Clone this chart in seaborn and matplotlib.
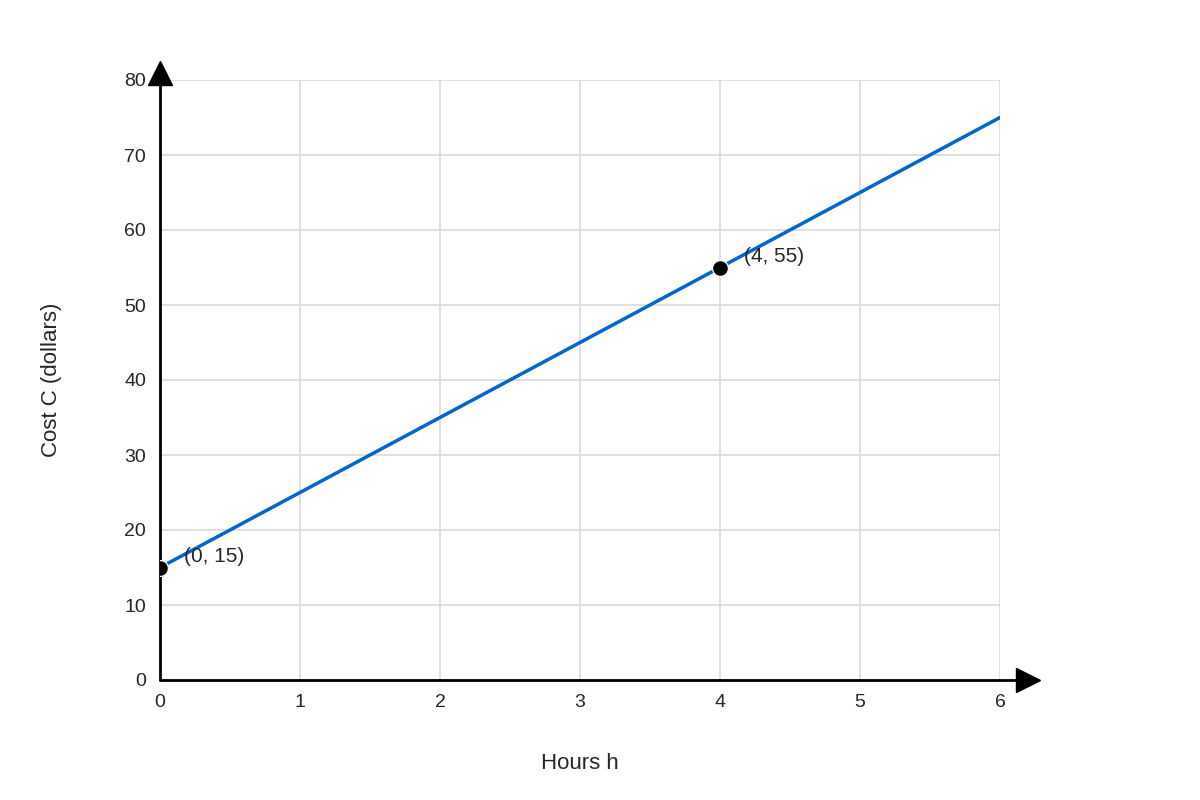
import matplotlib.pyplot as plt
import seaborn as sns
import pandas as pd

hours = [0, 6]
cost = [15, 75]
point_x = [0, 4]
point_y = [15, 55]
point_labels = ["(0, 15)", "(4, 55)"]
x_ticks = [0, 1, 2, 3, 4, 5, 6]
y_ticks = [0, 10, 20, 30, 40, 50, 60, 70, 80]

sns.set_style("white")
plt.rcParams['font.family'] = ['Liberation Sans', 'DejaVu Sans']

fig = plt.figure(figsize=(12, 8), dpi=100)
ax = fig.add_axes([160 / 1200, 120 / 800, 840 / 1200, 600 / 800])

df = pd.DataFrame({"h": hours, "C": cost})
sns.lineplot(data=df, x="h", y="C", color="#0066CC", linewidth=2.5, ax=ax)
sns.scatterplot(x=point_x, y=point_y, color="black", s=130, zorder=5, ax=ax)
for px, py, lab in zip(point_x, point_y, point_labels):
    ax.text(px + 0.17, py + 1.5, lab, fontsize=15, ha="left", va="center")

ax.set_xlim(0, 6)
ax.set_ylim(0, 80)
ax.set_xticks(x_ticks)
ax.set_yticks(y_ticks)
ax.grid(True, color="#d9d9d9", linewidth=1.2)
for s in ax.spines.values():
    s.set_visible(False)
ax.tick_params(length=0, labelsize=14, pad=10)

# axes with arrows
ax.plot([0, 6.2], [0, 0], color="black", lw=2, clip_on=False, zorder=4)
ax.plot([0, 0], [0, 80.5], color="black", lw=2, clip_on=False, zorder=4)
ax.plot([6.2], [0], marker=">", color="black", markersize=17, clip_on=False, zorder=6)
ax.plot([0], [81.0], marker="^", color="black", markersize=17, clip_on=False, zorder=6)

ax.set_xlabel("Hours h", fontsize=16, labelpad=30)
ax.set_ylabel("Cost C (dollars)", fontsize=16, labelpad=45)

fig.savefig("out.png", dpi=100)
